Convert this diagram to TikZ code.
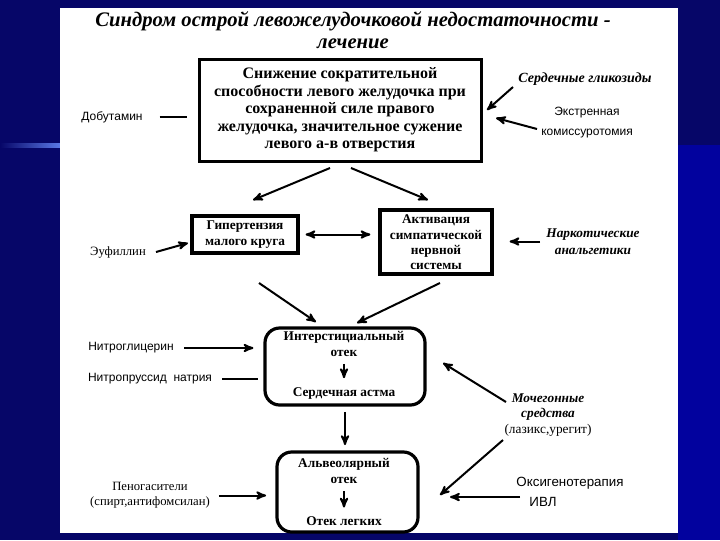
\documentclass[tikz,border=0pt]{standalone}
\usepackage{fontspec}
\setmainfont{Liberation Serif}
\newfontfamily\arial{Liberation Sans}
\usetikzlibrary{arrows,positioning}
\definecolor{slide}{RGB}{6,6,104}
\definecolor{slideright}{RGB}{2,2,158}
\definecolor{slidelight}{RGB}{90,120,230}

\begin{document}
\begin{tikzpicture}[x=0.75pt,y=-0.75pt,>=stealth',line width=1.5pt]
  \useasboundingbox (0,0) rectangle (720,540);
  \fill[slide] (0,0) rectangle (720,540);
  \fill[slideright] (678,145) rectangle (720,540);
  \shade[left color=slide,right color=slidelight] (0,143) rectangle (60,147);
  \fill[white] (60,8) rectangle (678,533);

\tikzset{bigbox/.style={draw,line width=2.4pt,inner sep=0pt}}
\tikzset{roundbox/.style={bigbox,rounded corners=11pt}}
\tikzset{boxtext/.style={align=center,inner sep=0pt,font=\bfseries\fontsize{10}{11.5}\selectfont}}
\tikzset{sanstext/.style={align=center,inner sep=0pt,font=\arial\fontsize{9}{15}\selectfont}}
\tikzset{seriftext/.style={align=center,inner sep=0pt,font=\fontsize{9.5}{11.5}\selectfont}}
\tikzset{ittext/.style={align=center,inner sep=0pt,font=\bfseries\itshape\fontsize{10}{12.5}\selectfont}}

  \node[align=center,font=\bfseries\itshape\fontsize{15.5}{16.5}\selectfont] (title) at (353,30.5)
       {Синдром острой левожелудочковой недостаточности -\\лечение};

  \node[bigbox,minimum width=212pt,minimum height=76pt] (main) at (340.5,110.5) {};
  \node[boxtext,font=\bfseries\fontsize{12}{13.1}\selectfont] (maintext) at (340,110)
       {Снижение сократительной\\способности левого желудочка при\\сохраненной силе правого\\желудочка, значительное сужение\\левого а-в отверстия};
  \node[bigbox,minimum width=79.5pt,minimum height=27.75pt] (hyper) at (245,234.5) {};
  \node[boxtext,font=\bfseries\fontsize{10}{12}\selectfont] (hypertext) at (245,235) {Гипертензия\\малого круга};
  \node[bigbox,minimum width=84pt,minimum height=48pt] (symp) at (436,242) {};
  \node[boxtext] (symptext) at (436,242.5) {Активация\\симпатической\\нервной\\системы};
  \node[roundbox,minimum width=120pt,minimum height=57.75pt] (inter) at (345,366.5) {};
  \node[boxtext] (interA) at (344,344) {Интерстициальный\\отек};
  \node[boxtext] (interB) at (344,393) {Сердечная астма};
  \node[roundbox,minimum width=105.75pt,minimum height=60pt] (alv) at (347.5,492) {};
  \node[boxtext] (alvA) at (344,471) {Альвеолярный\\отек};
  \node[boxtext] (alvB) at (344,521) {Отек легких};

  \node[sanstext] (dobut) at (112,117) {Добутамин};
  \node[ittext,font=\bfseries\itshape\fontsize{10.5}{12.5}\selectfont] (glik) at (585,79) {Сердечные гликозиды};
  \node[sanstext] (ekstr) at (587,122.5) {Экстренная\\комиссуротомия};
  \node[seriftext] (eufil) at (118,252) {Эуфиллин};
  \node[ittext] (nark) at (593,241.5) {Наркотические\\анальгетики};
  \node[sanstext] (nitrog) at (131,348) {Нитроглицерин};
  \node[sanstext] (nitropr) at (150,379) {Нитропруссид\ \ натрия};
  \node[seriftext,font=\fontsize{10}{11.5}\selectfont] (diur) at (548,415)
       {\bfseries\itshape Мочегонные\\\bfseries\itshape средства\\(лазикс,урегит)};
  \node[seriftext] (penog) at (150,495.5) {Пеногасители\\(спирт,антифомсилан)};
  \node[sanstext,font=\arial\fontsize{10}{12}\selectfont] (oxy) at (570,483) {Оксигенотерапия};
  \node[sanstext,font=\arial\fontsize{10}{12}\selectfont] (ivl) at (543,502) {ИВЛ};

  \coordinate (glikT) at (513,87);   \coordinate (glikH) at (487,110);
  \coordinate (ekstrT) at (537,129); \coordinate (ekstrH) at (496,118);
  \coordinate (mainL) at (330,168);  \coordinate (hyperN) at (253,200);
  \coordinate (mainR) at (351,168);  \coordinate (sympN) at (428,200);
  \coordinate (eufilT) at (156,252); \coordinate (eufilH) at (188,243);
  \coordinate (hyperS) at (259,283); \coordinate (interL) at (316,322);
  \coordinate (sympS) at (440,283);  \coordinate (interR) at (357,323);
  \coordinate (diurU) at (506,402);  \coordinate (interE) at (443,363);
  \coordinate (diurD) at (503,440);  \coordinate (alvE) at (440,495);
  \coordinate (oxyT) at (520,497);   \coordinate (alvR) at (450,497);

\tikzset{arr/.style={->}}
  \draw[shorten <=12pt,shorten >=8pt] (dobut.east) -- (dobut.east -| main.west);
  \draw[arr] (glikT) -- (glikH);
  \draw[arr] (ekstrT) -- (ekstrH);
  \draw[arr] (mainL) -- (hyperN);
  \draw[arr] (mainR) -- (sympN);
  \draw[arr] (eufilT) -- (eufilH);
  \draw[<->,shorten <=4.5pt,shorten >=6pt] (hyper.east) -- (hyper.east -| symp.west);
  \draw[arr,shorten <=4pt,shorten >=12pt] (nark.west) -- (nark.west -| symp.east);
  \draw[arr] (hyperS) -- (interL);
  \draw[arr] (sympS) -- (interR);
  \draw[arr,shorten <=7pt,shorten >=7.5pt] (nitrog.east) -- (nitrog.east -| inter.west);
  \draw[shorten <=7pt,shorten >=4pt] (nitropr.east) -- (nitropr.east -| inter.west);
  \draw[arr,shorten <=5pt,shorten >=6pt] (interA.south) -- (interB.north);
  \draw[arr] (diurU) -- (interE);
  \draw[arr] (diurD) -- (alvE);
  \draw[arr,shorten <=4pt,shorten >=4pt] (inter.south) -- (inter.south |- alv.north);
  \draw[arr,shorten <=5pt,shorten >=6pt] (alvA.south) -- (alvB.north);
  \draw[arr,shorten <=6pt,shorten >=7pt] (penog.east) -- (penog.east -| alv.west);
  \draw[arr] (oxyT) -- (alvR);
\end{tikzpicture}
\end{document}
